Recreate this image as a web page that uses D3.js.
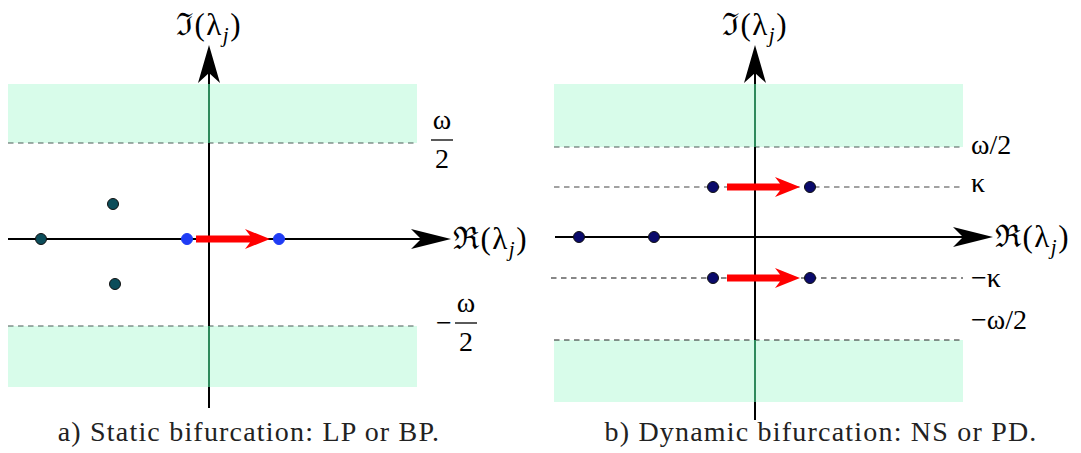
<!DOCTYPE html>
<html>
<head>
<meta charset="utf-8">
<script src="https://cdn.jsdelivr.net/npm/d3@7"></script>
<style>
  body { margin: 0; background: #fff; }
  svg { display: block; }
  text { font-family: "Liberation Serif", "Times New Roman", "DejaVu Serif", serif; }
</style>
</head>
<body>
<svg width="1081" height="453"></svg>
<script>
// values in units of the complex plane (re, im)
const staticFixed = [[-3.36, 0], [-1.92, 0.7], [-1.88, -0.9]];
const staticMoving = [[-0.44, 0], [1.4, 0]];
const staticArrows = [[-0.26, 1.22, 0]];
const staticBands = [[1.92, 3.1], [-2.96, -1.74]];
const staticLevels = [1.92, -1.74];

const dynamicFixed = [[-3.52, 0], [-2.02, 0]];
const dynamicMoving = [[-0.84, 1.0], [1.1, 1.0], [-0.84, -0.82], [1.1, -0.82]];
const dynamicArrows = [[-0.56, 0.9, 1.0], [-0.56, 0.9, -0.82]];
const dynamicBands = [[1.8, 3.06], [-3.3, -2.06]];
const dynamicLevels = [1.8, 1.0, -0.82, -2.06];
const dynamicLevelLabels = ["ω/2", "κ", "−κ", "−ω/2"];

const captions = ["a) Static bifurcation: LP or BP.", "b) Dynamic bifurcation: NS or PD."];

const svg = d3.select("svg");

function axisLabel(g, sym, xPos, yPos, anchor) {
  const t = g.append("text")
    .attr("x", xPos)
    .attr("y", yPos)
    .attr("text-anchor", anchor)
    .attr("font-size", 31)
    .attr("letter-spacing", 1.5);
  t.append("tspan").text(sym + "(λ");
  t.append("tspan").attr("font-size", 21).attr("font-style", "italic").attr("dy", 7).text("j");
  t.append("tspan").attr("dy", -7).text(")");
  return t;
}

function panel(opt) {
  const g = svg.append("g");
  const x = d3.scaleLinear().domain([-4, 4]).range([opt.ox - 200, opt.ox + 200]);
  const y = d3.scaleLinear().domain([-4, 4]).range([opt.oy + 200, opt.oy - 200]);

  // shaded bands
  g.selectAll(".band")
    .data(opt.bands)
    .enter()
    .append("rect")
    .attr("x", x(opt.bandRe[0]))
    .attr("width", x(opt.bandRe[1]) - x(opt.bandRe[0]))
    .attr("y", d => y(d[1]))
    .attr("height", d => y(d[0]) - y(d[1]))
    .attr("fill", "#d8fcea");

  // dashed levels
  g.selectAll(".level")
    .data(opt.levels)
    .enter()
    .append("line")
    .attr("x1", (d, i) => x(opt.dashStart[i]))
    .attr("x2", x(opt.bandRe[1]))
    .attr("y1", d => y(d))
    .attr("y2", d => y(d))
    .attr("stroke", (d, i) => opt.dashColor[i])
    .attr("stroke-width", 1.2)
    .attr("stroke-dasharray", "5.5,4.5");

  // real axis
  const reEnd = x(opt.reAxis[1]);
  g.append("line")
    .attr("x1", x(opt.reAxis[0])).attr("x2", reEnd - 20)
    .attr("y1", y(0)).attr("y2", y(0))
    .attr("stroke", "#000").attr("stroke-width", 2);
  g.append("path")
    .attr("d", `M${reEnd},${y(0)} L${reEnd - 40},${y(0) - 10} L${reEnd - 30},${y(0)} L${reEnd - 40},${y(0) + 10} Z`)
    .attr("fill", "#000");

  // imaginary axis
  const imEnd = y(opt.imAxis[1]);
  g.append("line")
    .attr("x1", x(0)).attr("x2", x(0))
    .attr("y1", y(opt.imAxis[0])).attr("y2", imEnd + 20)
    .attr("stroke", "#000").attr("stroke-width", 2);
  g.append("path")
    .attr("d", `M${x(0)},${imEnd} L${x(0) - 11},${imEnd + 38} L${x(0)},${imEnd + 28} L${x(0) + 11},${imEnd + 38} Z`)
    .attr("fill", "#000");

  // axis through the shaded bands looks green
  g.selectAll(".bandAxis")
    .data(opt.bands)
    .enter()
    .append("line")
    .attr("x1", x(0)).attr("x2", x(0))
    .attr("y1", d => y(d[1])).attr("y2", d => y(d[0]))
    .attr("stroke", "#2f8a5c").attr("stroke-width", 2);

  // red arrows
  opt.arrows.forEach(a => {
    const x0 = x(a[0]), x1 = x(a[1]), yy = y(a[2]);
    g.append("path")
      .attr("d", `M${x0},${yy - 3.5} L${x1 - 20},${yy - 3.5} L${x1 - 25},${yy - 10} L${x1},${yy} L${x1 - 25},${yy + 10} L${x1 - 20},${yy + 3.5} L${x0},${yy + 3.5} Z`)
      .attr("fill", "#ff0000");
  });

  // eigenvalue dots
  g.selectAll(".fixed")
    .data(opt.fixed)
    .enter()
    .append("circle")
    .attr("cx", d => x(d[0]))
    .attr("cy", d => y(d[1]))
    .attr("r", 5.5)
    .attr("fill", opt.fixedColor)
    .attr("stroke", "#111")
    .attr("stroke-width", 1);

  g.selectAll(".moving")
    .data(opt.moving)
    .enter()
    .append("circle")
    .attr("cx", d => x(d[0]))
    .attr("cy", d => y(d[1]))
    .attr("r", 5.5)
    .attr("fill", opt.movingColor)
    .attr("stroke", opt.movingStroke)
    .attr("stroke-width", 1);

  // axis labels
  axisLabel(g, "ℜ", reEnd + 2, y(0) + 10, "start");
  axisLabel(g, "ℑ", x(0), imEnd - 10, "middle");

  // caption
  g.append("text")
    .attr("x", opt.captionX)
    .attr("y", 441)
    .attr("text-anchor", "middle")
    .attr("font-size", 28)
    .attr("letter-spacing", 1.2)
    .attr("fill", "#222")
    .text(opt.caption);

  return { g, x, y };
}

// a) static
const a = panel({
  ox: 209, oy: 239,
  bandRe: [-4.02, 4.16],
  bands: staticBands,
  levels: staticLevels,
  dashStart: [-4.02, -4.02],
  dashColor: ["#4a5a56", "#4a5a56"],
  reAxis: [-4.02, 4.84],
  imAxis: [-3.38, 3.88],
  arrows: staticArrows,
  fixed: staticFixed,
  fixedColor: "#0c4d5a",
  moving: staticMoving,
  movingColor: "#1f3cf5",
  movingStroke: "#1f3cf5",
  caption: captions[0],
  captionX: 249
});

// omega/2 fractions for panel a
function fraction(g, cx, yLine, sign) {
  if (sign) {
    g.append("text")
      .attr("x", cx - 22).attr("y", yLine + 9)
      .attr("text-anchor", "middle").attr("font-size", 28)
      .text("−");
  }
  g.append("text")
    .attr("x", cx).attr("y", yLine - 11)
    .attr("text-anchor", "middle").attr("font-size", 28)
    .text("ω");
  g.append("line")
    .attr("x1", cx - 11).attr("x2", cx + 11)
    .attr("y1", yLine).attr("y2", yLine)
    .attr("stroke", "#000").attr("stroke-width", 1.3);
  g.append("text")
    .attr("x", cx).attr("y", yLine + 28)
    .attr("text-anchor", "middle").attr("font-size", 28)
    .text("2");
}
fraction(a.g, a.x(4.66), a.y(staticLevels[0]) - 3, false);
fraction(a.g, a.x(5.14), a.y(staticLevels[1]) - 3, true);

// b) dynamic
const b = panel({
  ox: 755, oy: 237,
  bandRe: [-4.02, 4.16],
  bands: dynamicBands,
  levels: dynamicLevels,
  dashStart: [-4.02, -4.02, -4.08, -4.02],
  dashColor: ["#4a5a56", "#444", "#111", "#222"],
  reAxis: [-4, 4.76],
  imAxis: [-3.66, 3.84],
  arrows: dynamicArrows,
  fixed: dynamicFixed,
  fixedColor: "#0a0a6b",
  moving: dynamicMoving,
  movingColor: "#0a0a6b",
  movingStroke: "#111",
  caption: captions[1],
  captionX: 821
});

const labelDy = [7, 5, 9, -11];
b.g.selectAll(".levelLabel")
  .data(dynamicLevels)
  .enter()
  .append("text")
  .attr("x", b.x(4.32))
  .attr("y", (d, i) => b.y(d) + labelDy[i])
  .attr("font-size", 28)
  .text((d, i) => dynamicLevelLabels[i]);
</script>
</body>
</html>
